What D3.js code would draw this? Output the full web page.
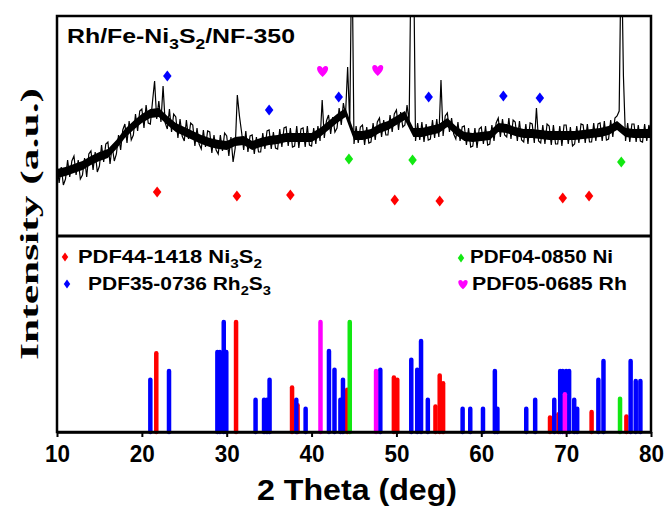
<!DOCTYPE html>
<html>
<head>
<meta charset="utf-8">
<script src="https://cdn.jsdelivr.net/npm/d3@7"></script>
<style>
  body { margin: 0; background: #fff; }
  svg { display: block; }
</style>
</head>
<body>
<svg id="chart" width="666" height="508"></svg>
<script>
// measured scan, 10-80 deg, one reading every 0.25 deg (a.u.)
const scanStart = 10;
const scanStep = 0.25;
const scanCounts = [
  72, 53, 69, 51,  57, 76, 59, 75,  80, 61, 76, 57,  61, 78, 59, 82,
  85, 66, 84, 64,  70, 91, 74, 92,  94, 72, 90, 75,  82, 101, 86, 106,
  112, 93, 115, 96,  101, 122, 105, 125,  127, 108, 131, 113,  112, 134, 155, 117,
  135, 114, 150, 113,  107, 127, 104, 122,  119, 98, 117, 100,  95, 116, 97, 113,
  111, 90, 108, 92,  87, 106, 89, 105,  104, 83, 101, 86,  82, 101, 85, 103,
  100, 80, 99, 74,  88, 141, 120, 104,  86, 105, 84, 100,  101, 82, 99, 84,
  84, 103, 87, 105,  106, 87, 104, 88,  87, 107, 89, 108,  109, 90, 108, 89,
  90, 110, 88, 107,  108, 89, 110, 91,  90, 108, 92, 110,  95, 136, 98, 115,
  121, 102, 119, 104,  108, 128, 111, 133,  121, 169, 112, 300,  92, 110, 93, 109,
  111, 91, 109, 93,  94, 113, 96, 114,  118, 99, 116, 101,  101, 121, 104, 122,
  126, 106, 124, 109,  111, 131, 114, 300,  300, 95, 113, 96,  114, 94, 112, 96,
  97, 116, 98, 117,  99, 156, 100, 120,  123, 104, 118, 102,  97, 114, 95, 109,
  110, 91, 108, 89,  90, 108, 88, 107,  109, 92, 110, 91,  92, 111, 95, 113,
  118, 99, 117, 101,  99, 118, 97, 116,  114, 95, 115, 96,  94, 112, 92, 113,
  112, 93, 128, 95,  93, 111, 92, 112,  110, 91, 111, 92,  92, 110, 90, 111,
  111, 92, 109, 90,  92, 110, 93, 112,  111, 93, 112, 94,  94, 113, 95, 112,
  113, 95, 115, 96,  97, 116, 99, 118,  120, 125, 300, 160,  95, 113, 94, 112,
  112, 94, 111, 95,  94, 112, 95, 111,  103
];

// dense noise band of the scan, read every 1 deg from 10 to 80 (a.u.)
const bandLow = [
  58, 60, 63, 66, 71, 75, 78, 87, 98, 106, 113, 118, 119, 111, 104, 100,
  96, 92, 89, 87, 86, 90, 91, 86, 89, 91, 92, 94, 94, 94, 94, 99,
  106, 113, 119, 96, 96, 98, 103, 106, 111, 116, 99, 99, 101, 103, 109, 101,
  95, 94, 95, 96, 104, 103, 100, 98, 98, 97, 96, 96, 96, 96, 97, 98,
  99, 101, 106, 99, 98, 98, 98
];
const bandHigh = [
  67, 69, 72, 75, 80, 84, 87, 96, 107, 115, 122, 127, 128, 120, 113, 109,
  105, 101, 98, 96, 95, 99, 100, 95, 98, 100, 101, 103, 103, 103, 103, 108,
  115, 122, 128, 105, 105, 107, 112, 115, 120, 125, 108, 108, 110, 112, 118, 110,
  104, 103, 104, 105, 113, 112, 109, 107, 107, 106, 105, 105, 105, 105, 106, 107,
  108, 110, 115, 108, 107, 107, 107
];

// phase markers over the scan (theta, level in a.u.)
const ni3s2MarkTheta = [21.8, 31.2, 37.5, 49.8, 55.1, 69.6, 72.7];
const ni3s2MarkLevel = [44, 40, 41, 36, 35, 38, 40];
const rh2s3MarkTheta = [23.0, 35.0, 43.2, 53.8, 62.6, 66.9];
const rh2s3MarkLevel = [160, 126, 139, 139, 140, 138];
const niMarkTheta = [44.4, 51.9, 76.5];
const niMarkLevel = [77, 76, 74];
const rhMarkTheta = [41.3, 47.8];
const rhMarkLevel = [164, 165];

// reference cards (theta, relative intensity %)
const ni3s2Theta = [21.7, 31.1, 37.7, 38.35, 44.2, 49.7, 50.1, 54.6, 55.1, 55.5, 68.1, 69.1, 73.0, 77.1];
const ni3s2Rel = [71, 99, 40, 24, 38, 49, 47, 23, 51, 44, 13, 16, 18, 14];
const rh2s3Theta = [21.0, 23.2, 28.9, 29.2, 29.65, 29.95, 33.4, 34.4, 34.75, 35.05, 38.2, 39.3,
  42.05, 42.7, 43.4, 43.7, 48.1, 51.75, 52.45, 52.9, 53.7, 57.8, 58.7, 60.2, 61.6, 61.9,
  65.3, 66.35, 68.6, 69.3, 69.6, 70.0, 70.35, 70.95, 71.3, 73.8, 74.4, 77.6, 78.2, 78.75];
const rh2s3Rel = [47, 55, 72, 72, 99, 72, 29, 29, 29, 47, 29, 21,
  73, 56, 29, 47, 56, 65, 56, 82, 29, 21, 21, 21, 55, 21,
  21, 29, 29, 55, 55, 55, 55, 29, 21, 47, 64, 64, 46, 46];
const niTheta = [44.5, 76.35];
const niRel = [99, 30];
const rhTheta = [41.05, 47.6, 69.85];
const rhRel = [99, 55, 34];

const xTicks = [10, 20, 30, 40, 50, 60, 70, 80];

const red = "#ff0000", blue = "#0000ff", green = "#12e812", pink = "#ff00ff";
const plotLeft = 57, plotRight = 651, plotTop = 16, plotMid = 236, plotBottom = 432;

const svg = d3.select("#chart");
const x = d3.scaleLinear().domain([10, 80]).range([plotLeft, plotRight]);
const yScan = d3.scaleLinear().domain([0, 220]).range([plotMid, plotTop]);
const yCard = d3.scaleLinear().domain([0, 100]).range([plotBottom, 321]);

svg.append("defs").append("clipPath").attr("id", "scanClip")
  .append("rect")
  .attr("x", plotLeft).attr("y", plotTop)
  .attr("width", plotRight - plotLeft).attr("height", plotMid - plotTop);

// scan: noise band, then the trace with its spikes
const band = d3.area()
  .x((d, i) => x(10 + i))
  .y0((d) => yScan(d[0]))
  .y1((d) => yScan(d[1]));

svg.append("path")
  .datum(d3.zip(bandLow, bandHigh))
  .attr("clip-path", "url(#scanClip)")
  .attr("d", band)
  .attr("fill", "#000");

const scanLine = d3.line()
  .x((d, i) => x(scanStart + i * scanStep))
  .y((d) => yScan(d));

svg.append("path")
  .datum(scanCounts)
  .attr("clip-path", "url(#scanClip)")
  .attr("d", scanLine)
  .attr("fill", "none")
  .attr("stroke", "#000")
  .attr("stroke-width", 1.2)
  .attr("stroke-linejoin", "miter");

const diamond = (w, h) => `M0,${-h / 2}L${w / 2},0L0,${h / 2}L${-w / 2},0Z`;
const heart = (s) => {
  const k = s / 13;
  return `M0,${5 * k}C${-7 * k},${-1 * k} ${-6.5 * k},${-6 * k} ${-3.2 * k},${-6 * k}` +
    `C${-1.2 * k},${-6 * k} 0,${-4.5 * k} 0,${-3.5 * k}` +
    `C0,${-4.5 * k} ${1.2 * k},${-6 * k} ${3.2 * k},${-6 * k}` +
    `C${6.5 * k},${-6 * k} ${7 * k},${-1 * k} 0,${5 * k}Z`;
};

function drawMarks(thetas, levels, shape, color) {
  svg.append("g")
    .selectAll("path")
    .data(d3.zip(thetas, levels))
    .join("path")
    .attr("transform", (d) => `translate(${x(d[0])},${yScan(d[1])})`)
    .attr("d", shape)
    .attr("fill", color);
}

drawMarks(ni3s2MarkTheta, ni3s2MarkLevel, diamond(8.5, 11), red);
drawMarks(rh2s3MarkTheta, rh2s3MarkLevel, diamond(8.5, 11), blue);
drawMarks(niMarkTheta, niMarkLevel, diamond(8.5, 11), green);
drawMarks(rhMarkTheta, rhMarkLevel, heart(13), pink);

// reference stick patterns
function drawSticks(thetas, rels, color) {
  svg.append("g")
    .selectAll("line")
    .data(d3.zip(thetas, rels))
    .join("line")
    .attr("x1", (d) => x(d[0]))
    .attr("x2", (d) => x(d[0]))
    .attr("y1", yCard(0))
    .attr("y2", (d) => yCard(d[1]))
    .attr("stroke", color)
    .attr("stroke-width", 4.5)
    .attr("stroke-linecap", "round");
}

drawSticks(ni3s2Theta, ni3s2Rel, red);
drawSticks(rh2s3Theta, rh2s3Rel, blue);
drawSticks(rhTheta, rhRel, pink);
drawSticks(niTheta, niRel, green);

// frame and divider
svg.append("rect")
  .attr("x", plotLeft).attr("y", plotTop)
  .attr("width", plotRight - plotLeft).attr("height", plotBottom - plotTop)
  .attr("fill", "none").attr("stroke", "#000").attr("stroke-width", 2.5);
svg.append("line")
  .attr("x1", plotLeft).attr("x2", plotRight).attr("y1", plotMid).attr("y2", plotMid)
  .attr("stroke", "#000").attr("stroke-width", 3);

// x axis
const xAxis = svg.append("g")
  .attr("transform", `translate(0,${plotBottom})`)
  .call(d3.axisBottom(x).tickValues(xTicks).tickSize(5).tickSizeOuter(0).tickPadding(8));
xAxis.select(".domain").attr("stroke-width", 2.5);
xAxis.selectAll(".tick line").attr("stroke-width", 2);
xAxis.selectAll(".tick text")
  .attr("font-family", "Liberation Sans, Arial, sans-serif")
  .attr("font-weight", "bold")
  .attr("font-size", 24)
  .attr("fill", "#000")
  .attr("textLength", 25)
  .attr("lengthAdjust", "spacingAndGlyphs");

svg.append("text")
  .attr("x", 357).attr("y", 500)
  .attr("text-anchor", "middle")
  .attr("font-family", "Liberation Sans, Arial, sans-serif")
  .attr("font-weight", "bold")
  .attr("font-size", 30)
  .attr("textLength", 200)
  .attr("lengthAdjust", "spacingAndGlyphs")
  .text("2 Theta (deg)");

svg.append("text")
  .attr("transform", "translate(38,224) rotate(-90)")
  .attr("text-anchor", "middle")
  .attr("font-family", "Liberation Serif, Times New Roman, serif")
  .attr("font-weight", "bold")
  .attr("font-size", 26)
  .attr("textLength", 272)
  .attr("lengthAdjust", "spacingAndGlyphs")
  .text("Intensity (a.u.)");

// text with subscripts: parts = [[text, isSub], ...]
function richText(px, py, parts, size, width) {
  const t = svg.append("text")
    .attr("x", px).attr("y", py)
    .attr("font-family", "Liberation Sans, Arial, sans-serif")
    .attr("font-weight", "bold")
    .attr("font-size", size)
    .attr("textLength", width)
    .attr("lengthAdjust", "spacingAndGlyphs");
  let down = false;
  parts.forEach(([s, sub]) => {
    const span = t.append("tspan").text(s);
    if (sub && !down) { span.attr("dy", size * 0.3).attr("font-size", size * 0.7); down = true; }
    else if (sub) { span.attr("font-size", size * 0.7); }
    else if (down) { span.attr("dy", -size * 0.3); down = false; }
  });
  return t;
}

richText(67, 43, [["Rh/Fe-Ni", false], ["3", true], ["S", false], ["2", true], ["/NF-350", false]], 20, 228);

// legend
svg.append("path").attr("transform", "translate(65,257)").attr("d", diamond(6.5, 9)).attr("fill", red);
richText(78, 263, [["PDF44-1418 Ni", false], ["3", true], ["S", false], ["2", true]], 18, 184);
svg.append("path").attr("transform", "translate(67,284)").attr("d", diamond(6.5, 9)).attr("fill", blue);
richText(88, 290, [["PDF35-0736 Rh", false], ["2", true], ["S", false], ["3", true]], 18, 183);
svg.append("path").attr("transform", "translate(461,258)").attr("d", diamond(6.5, 9)).attr("fill", green);
richText(470, 263, [["PDF04-0850 Ni", false]], 18, 143);
svg.append("path").attr("transform", "translate(463,285)").attr("d", heart(11)).attr("fill", pink);
richText(472, 290, [["PDF05-0685 Rh", false]], 18, 155);
</script>
</body>
</html>
